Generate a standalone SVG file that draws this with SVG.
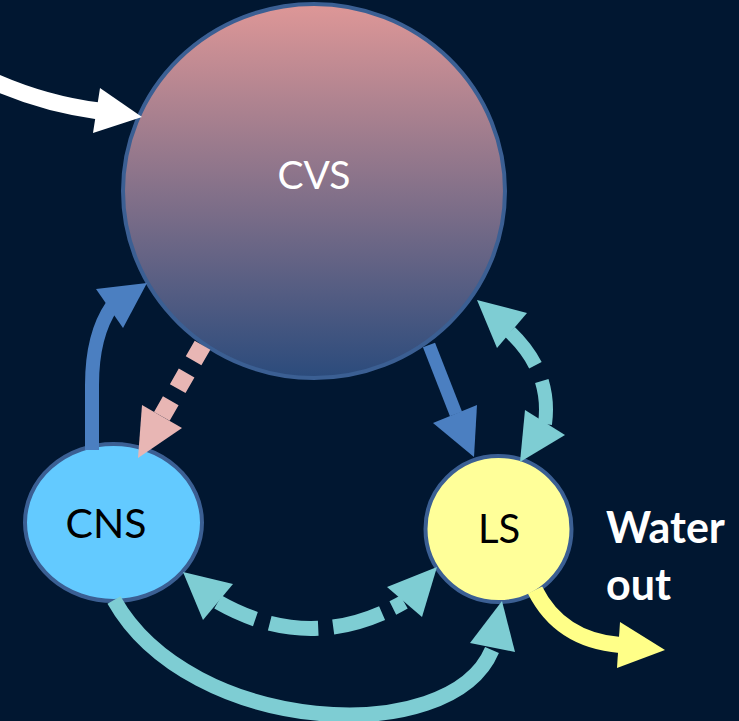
<svg xmlns="http://www.w3.org/2000/svg" width="739" height="721" viewBox="0 0 739 721">
<defs>
<linearGradient id="cvsGrad" x1="0" y1="0" x2="0" y2="1">
<stop offset="0" stop-color="#de9797"/>
<stop offset="1" stop-color="#2b4b7c"/>
</linearGradient>
</defs>
<style>
.node{stroke:#3b5f93;stroke-width:4}
.lbl{font-family:Lato,"Open Sans",sans-serif;text-anchor:middle}
.shaft{fill:none}
.teal{stroke:#7ecdd3}
.tealf{fill:#7ecdd3}
.wo{font-family:Lato,"Open Sans",sans-serif;font-weight:bold;font-size:43px;fill:#ffffff}
</style>
<rect width="739" height="721" fill="#011731"/>
<g id="CVS">
<ellipse class="node" cx="314" cy="191" rx="191" ry="187" fill="url(#cvsGrad)"/>
<text class="lbl" x="314" y="189" font-size="39" fill="#ffffff">CVS</text>
</g>
<g id="CNS">
<ellipse class="node" cx="113.5" cy="522.5" rx="88.5" ry="78.5" fill="#63caff"/>
<text class="lbl" x="106" y="538" font-size="41" fill="#000000">CNS</text>
</g>
<g id="LS">
<circle class="node" cx="498.5" cy="529" r="73" fill="#ffff99"/>
<text class="lbl" x="499" y="543" font-size="40" fill="#000000">LS</text>
</g>
<g id="water-out">
<text class="wo" x="606" y="543">Water</text>
<text class="wo" x="606" y="600">out</text>
</g>
<g id="connectors">
<path class="shaft" d="M -5 82 Q 45 104 99 111" stroke="#ffffff" stroke-width="17"/>
<polygon points="100,88 142,117 93,133" fill="#ffffff"/>
<path class="shaft" d="M 92 450 L 92 385 Q 92 335 112 306" stroke="#4b7fc1" stroke-width="14"/>
<polygon points="96,289 147,283 123,328" fill="#4b7fc1"/>
<path class="shaft" d="M 202.5 345.2 L 161.5 417" stroke="#e8b6b4" stroke-width="18" stroke-dasharray="18 14"/>
<polygon points="142,405 182,428 138,458" fill="#e8b6b4"/>
<path class="shaft" d="M 429 345 L 456 414" stroke="#4b7fc1" stroke-width="13"/>
<polygon points="433,423 477,405 474,457" fill="#4b7fc1"/>
<path class="shaft teal" d="M 510 332 Q 552 372 545 424" stroke-width="14" stroke-dasharray="42 17 100"/>
<polygon class="tealf" points="477,300 527,313 497,348"/>
<polygon class="tealf" points="525,410 565,435 520,462"/>
<path class="shaft teal" d="M 218 602 Q 311 655 404 602" stroke-width="15" stroke-dasharray="41 15 49 15 51 12 100"/>
<polygon class="tealf" points="183,572 233,584 203,620"/>
<polygon class="tealf" points="437,567 422,617 387,587"/>
<path class="shaft teal" d="M 114 600 C 190 735 450 750 492 650" stroke-width="15"/>
<polygon class="tealf" points="502,601 515,652 470,643"/>
<path class="shaft" d="M 535 590 Q 560 640 620 645" stroke="#ffff88" stroke-width="16"/>
<polygon points="620,622 665,650 617,668" fill="#ffff88"/>
</g>
</svg>
